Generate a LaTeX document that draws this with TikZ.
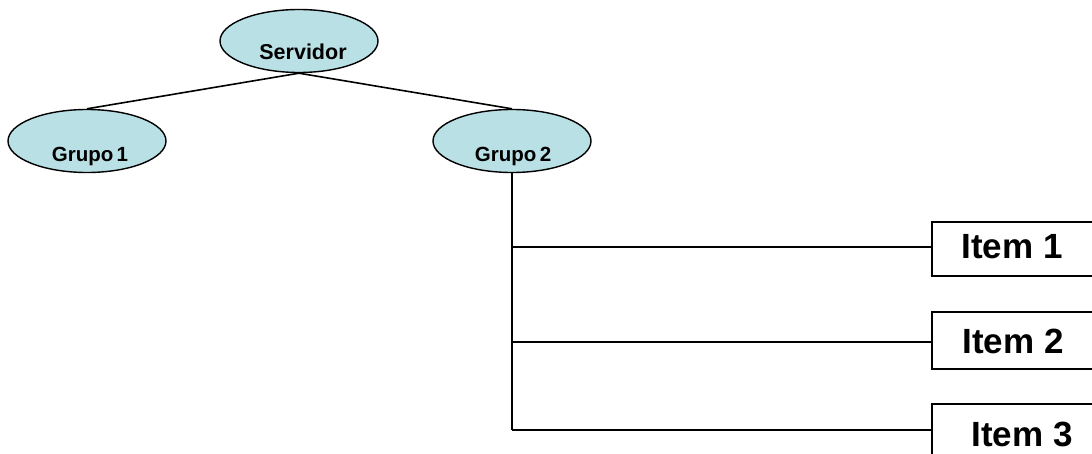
\documentclass[tikz,border=0pt]{standalone}
\usepackage{fontspec}
\setmainfont{Liberation Sans}
\usetikzlibrary{shapes.geometric}
\definecolor{grpfill}{RGB}{185,224,228}
\begin{document}
\begin{tikzpicture}[x=1pt,y=-1pt,
  grp/.style={ellipse,draw=black,line width=1.4pt,fill=grpfill,
    minimum width=158pt,minimum height=63pt,inner sep=0pt},
  grplbl/.style={font=\bfseries\fontsize{20.5}{22}\selectfont,inner sep=0pt},
  itembox/.style={rectangle,draw=black,line width=2pt,anchor=north west,
    minimum width=200pt,inner sep=0pt},
  itemlbl/.style={font=\bfseries\fontsize{35}{38}\selectfont,inner sep=0pt},
  link/.style={draw=black,line width=1.6pt}]
  \useasboundingbox (0,0) rectangle (1092,454);
  \clip (0,0) rectangle (1092,454);

  % tree of groups
  \node[grp] (srv) at (299,41) {};
  \node[grp] (g1) at (87,141) {};
  \node[grp] (g2) at (512,141) {};
  \node[grplbl,font=\bfseries\fontsize{21.5}{23}\selectfont] (srvt) at (303,52) {Servidor};
  \node[grplbl] (g1t) at (90,156) {Grupo\,1};
  \node[grplbl] (g2t) at (513,156) {Grupo\,2};

  \draw[link] (srv.south) -- (g1.north);
  \draw[link] (srv.south) -- (g2.north);

  % items of the second group
  \node[itembox,minimum height=54pt] (i1) at (931,221) {};
  \node[itembox,minimum height=57pt] (i2) at (931,311) {};
  \node[itembox,minimum height=70pt] (i3) at (931,403) {};
  \node[itemlbl] (i1t) at (1012,247) {Item 1};
  \node[itemlbl] (i2t) at (1013,341) {Item 2};
  \node[itemlbl] (i3t) at (1022,434) {Item 3};

  \coordinate (b1) at (512,247);
  \coordinate (b2) at (512,342);
  \coordinate (b3) at (512,430);
  \draw[link] (g2.south) -- (b3);
  \draw[link] (b1) -- (i1.west |- b1);
  \draw[link] (b2) -- (i2.west |- b2);
  \draw[link] (b3) -- (i3.west |- b3);
\end{tikzpicture}
\end{document}
